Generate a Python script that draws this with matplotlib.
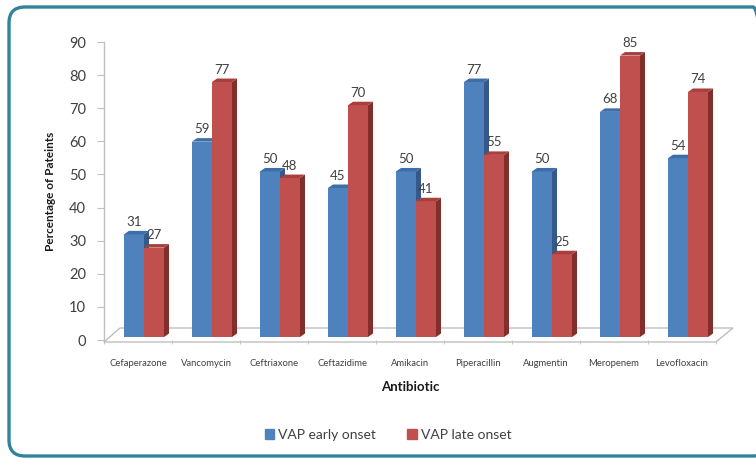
import numpy as np
import matplotlib.pyplot as plt
from matplotlib.patches import Polygon, FancyBboxPatch, Patch
from matplotlib.transforms import IdentityTransform

# ---- data ----
antibiotics = ['Cefaperazone', 'Vancomycin', 'Ceftriaxone', 'Ceftazidime', 'Amikacin',
               'Piperacillin', 'Augmentin', 'Meropenem', 'Levofloxacin']
early_onset = [31, 59, 50, 45, 50, 77, 50, 68, 54]
late_onset = [27, 77, 48, 70, 41, 55, 25, 85, 74]
y_ticks = list(range(0, 100, 10))

plt.rcParams['font.family'] = ['Lato', 'DejaVu Sans']

W, H = 756, 459
fig = plt.figure(figsize=(W / 100, H / 100), dpi=100)
fig.patch.set_facecolor('white')

# axes box in pixels: x 104..716, y 42..340 (image coords)
ax = fig.add_axes([104 / W, 1 - 340 / H, 612 / W, 298 / H])
ax.set_xlim(-0.5, 8.5)
ax.set_ylim(0, 90)

# pixel -> data units
px_x = 9 / 612
px_y = 90 / 298

base = 3 * px_y            # bars stand a little inside the floor
bw = 20 * px_x             # bar width
dx, dy = 5 * px_x, 3.5 * px_y   # bar depth

colors = {
    'early': ('#4F81BD', '#34598A', '#3E6EA8'),
    'late': ('#C0504D', '#822E2B', '#A7403D'),
}
grey = '#404040'
line_grey = '#BFBFBF'

# floor of the 3d plot
fy0 = -2 * px_y
floor = Polygon([(-0.5, fy0), (8.5, fy0), (8.5 + 17 * px_x, fy0 + 14 * px_y),
                 (-0.5 + 16 * px_x, fy0 + 14 * px_y)],
                closed=True, fill=False, ec=line_grey, lw=1.0, clip_on=False, zorder=1)
ax.add_patch(floor)


def bar3d(x0, h, key):
    face, side, top = colors[key]
    rect = ax.bar(x0, h, width=bw, bottom=base, align='edge', color=face,
                  linewidth=0, zorder=3)[0]
    l, b = rect.get_x(), rect.get_y()
    r, t = l + rect.get_width(), b + rect.get_height()
    ax.add_patch(Polygon([(r, b), (r + dx, b + dy), (r + dx, t + dy), (r, t)],
                         closed=True, fc=side, ec='none', zorder=3, clip_on=False))
    ax.add_patch(Polygon([(l, t), (l + dx, t + dy), (r + dx, t + dy), (r, t)],
                         closed=True, fc=top, ec='none', zorder=3, clip_on=False))
    ax.text((l + r) / 2, t + dy + 3 * px_y, f'{h}', ha='center', va='bottom',
            fontsize=9.5, color=grey, zorder=5)


for i in range(len(antibiotics)):
    bar3d(i - 14 * px_x, early_onset[i], 'early')
    bar3d(i + 6 * px_x, late_onset[i], 'late')

# axes styling
for s in ['top', 'right', 'bottom', 'left']:
    ax.spines[s].set_visible(False)
ax.plot([-0.5, -0.5], [fy0, 90], color=line_grey, lw=1.0, clip_on=False, zorder=1)

ax.set_yticks(y_ticks)
ax.tick_params(axis='y', length=5, color=line_grey, labelsize=10.5, labelcolor=grey, pad=8)

ax.set_xticks(range(len(antibiotics)))
ax.set_xticklabels(antibiotics, fontsize=6.8, color=grey)
ax.set_xticks(np.arange(-0.5, 9, 1), minor=True)
ax.tick_params(axis='x', which='major', length=0, pad=14)
ax.tick_params(axis='x', which='minor', length=3, color=line_grey)

ax.set_xlabel('Antibiotic', fontsize=9.5, fontweight='bold', color='#1a1a1a', labelpad=9)
ax.set_ylabel('Percentage of Pateints', fontsize=8.5, fontweight='bold', color='#1a1a1a',
              labelpad=9)

handles = [Patch(color=colors['early'][0], label='VAP early onset'),
           Patch(color=colors['late'][0], label='VAP late onset')]
fig.legend(handles=handles, loc='center', bbox_to_anchor=(388 / W, 1 - 435 / H), ncol=2,
           frameon=False, fontsize=10, handlelength=0.7, handleheight=0.7,
           handletextpad=0.3, columnspacing=2.2, labelcolor=grey)

# rounded teal frame around the chart
frame = FancyBboxPatch((9, 3), 760, 449, boxstyle='round,pad=0,rounding_size=16',
                       transform=IdentityTransform(), fill=False, ec='#31849B', lw=2.4)
fig.add_artist(frame)

fig.savefig('out.png', dpi=100, facecolor='white')
